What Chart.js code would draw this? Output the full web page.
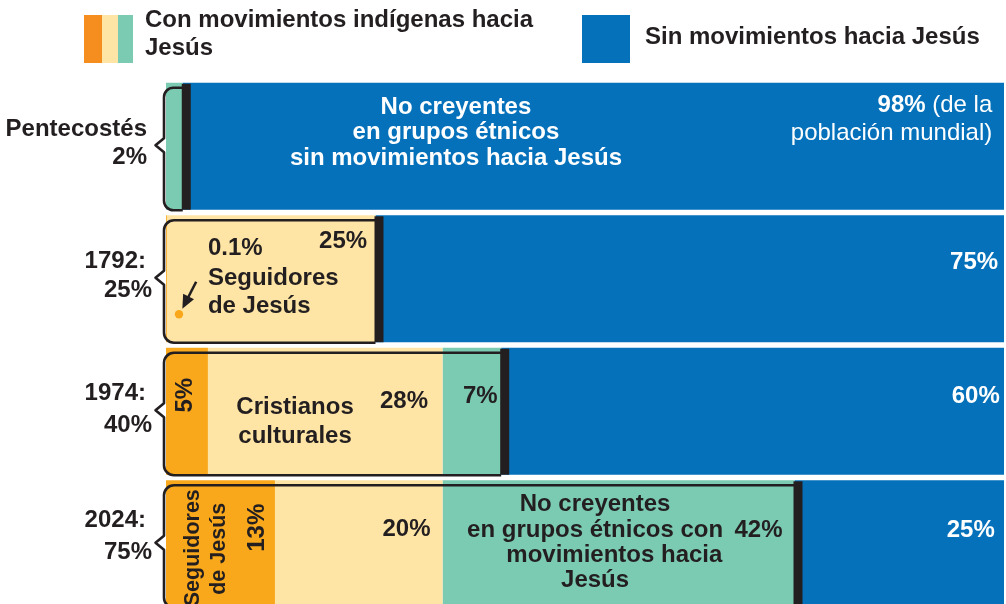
<!DOCTYPE html>
<html><head><meta charset="utf-8">
<script src="https://cdn.jsdelivr.net/npm/chart.js@4/dist/chart.umd.min.js"></script>
<style>html,body{margin:0;padding:0;background:#fff;overflow:hidden;width:1006px;height:604px}canvas{display:block}</style>
</head><body><canvas id="c" width="1006" height="612"></canvas>
<script>
// ---- data ----
const categories = ['Pentecostés', '1792:', '1974:', '2024:'];
const shareLabels = ['2%', '25%', '40%', '75%'];
const seguidores = [0, 0.1, 5, 13];          // Seguidores de Jesús
const culturales = [0, 24.9, 28, 20];        // Cristianos culturales
const conMovimientos = [2, 0, 7, 42];        // No creyentes con movimientos
const sinMovimientos = [98, 75, 60, 25];     // Sin movimientos hacia Jesús
const legendCon = ['Con movimientos indígenas hacia', 'Jesús'];
const legendSin = 'Sin movimientos hacia Jesús';

const COL = {orange: '#F9A81B', legOrange: '#F68E1F', yellow: '#FFE5A5', teal: '#7BCAB2', blue: '#0571BA', ink: '#231F20'};
const FONT = '"Liberation Sans", Arial, Helvetica, sans-serif';
const FS = 24;

// text annotations: row, x value (%), dy from bar centre, text, align, colour, weight, rotated
const notes = [
  {r:0, v:34.6, dy:-39, t:'No creyentes', c:'#fff'},
  {r:0, v:34.6, dy:-14, t:'en grupos étnicos', c:'#fff'},
  {r:0, v:34.6, dy:12,  t:'sin movimientos hacia Jesús', c:'#fff'},
  {r:0, v:98.6, dy:-13, t:'población mundial)', c:'#fff', a:'right', w:'normal'},
  {r:1, v:24.0, dy:-37, t:'25%', a:'right'},
  {r:1, v:5.0,  dy:-30, t:'0.1%', a:'left'},
  {r:1, v:5.0,  dy:0,   t:'Seguidores', a:'left'},
  {r:1, v:5.0,  dy:28,  t:'de Jesús', a:'left'},
  {r:1, v:99.3, dy:-16, t:'75%', c:'#fff', a:'right'},
  {r:2, v:2.3,  dy:-16, t:'5%', rot:true},
  {r:2, v:15.4, dy:-4,  t:'Cristianos'},
  {r:2, v:15.4, dy:25,  t:'culturales'},
  {r:2, v:28.4, dy:-10, t:'28%'},
  {r:2, v:37.5, dy:-15, t:'7%'},
  {r:2, v:99.5, dy:-15, t:'60%', c:'#fff', a:'right'},
  {r:3, v:3.2,  dy:4,   t:'Seguidores', rot:true, fs:21.5},
  {r:3, v:6.3,  dy:5,   t:'de Jesús', rot:true, fs:21.5},
  {r:3, v:10.9, dy:-16, t:'13%', rot:true},
  {r:3, v:28.7, dy:-14, t:'20%'},
  {r:3, v:51.2, dy:-39, t:'No creyentes'},
  {r:3, v:51.2, dy:-13, t:'en grupos étnicos con'},
  {r:3, v:70.7, dy:-13, t:'42%'},
  {r:3, v:53.5, dy:12,  t:'movimientos hacia'},
  {r:3, v:51.2, dy:37,  t:'Jesús'},
  {r:3, v:98.9, dy:-13, t:'25%', c:'#fff', a:'right'}
];
// row label offsets (year line, share line)
const rowLabelDy = [[-17, 11], [-17, 12], [-18, 14], [-23, 9]];

const overlay = {
  id: 'overlay',
  afterDatasetsDraw(chart) {
    const ctx = chart.ctx;
    const xs = chart.scales.x;
    const px = v => xs.getPixelForValue(v);
    const bars = chart.getDatasetMeta(3).data;
    ctx.save();
    // brackets
    bars.forEach((b, i) => {
      const top = b.y - b.height / 2, bot = b.y + b.height / 2;
      const total = seguidores[i] + culturales[i] + conMovimientos[i];
      const xE = px(total), xL = px(0) - 2;
      const bT = top + 5, bB = bot + 0.5, r = Math.min(10, (xE - xL) / 2);
      const cy = b.y - 1;
      ctx.beginPath();
      ctx.moveTo(xE, bT);
      ctx.lineTo(xL + r, bT);
      ctx.arcTo(xL, bT, xL, bT + r, r);
      ctx.lineTo(xL, cy - 7);
      ctx.lineTo(xL - 8.5, cy);
      ctx.lineTo(xL, cy + 7);
      ctx.lineTo(xL, bB - r);
      ctx.arcTo(xL, bB, xL + r, bB, r);
      ctx.lineTo(xE, bB);
      ctx.lineWidth = 2.6;
      ctx.lineJoin = 'round';
      ctx.strokeStyle = COL.ink;
      ctx.stroke();
      ctx.fillStyle = COL.ink;
      ctx.fillRect(xE - 1, top + 1, 9, bot - top - 1);
    });
    // inner texts
    ctx.textBaseline = 'middle';
    notes.forEach(n => {
      const b = bars[n.r];
      ctx.font = (n.w || 'bold') + ' ' + (n.fs || FS) + 'px ' + FONT;
      ctx.fillStyle = n.c || COL.ink;
      const x = px(n.v), y = b.y + n.dy;
      if (n.rot) {
        ctx.save();
        ctx.translate(x, y);
        ctx.rotate(-Math.PI / 2);
        ctx.textAlign = 'center';
        ctx.fillText(n.t, 0, 0);
        ctx.restore();
      } else {
        ctx.textAlign = n.a || 'center';
        ctx.fillText(n.t, x, y);
      }
    });
    // "98% (de la" mixed weight
    {
      const b = bars[0];
      const xr = px(98.6), y = b.y - 41;
      ctx.textAlign = 'right';
      ctx.fillStyle = '#fff';
      ctx.font = 'normal ' + FS + 'px ' + FONT;
      const rest = ' (de la';
      ctx.fillText(rest, xr, y);
      const w = ctx.measureText(rest).width;
      ctx.font = 'bold ' + FS + 'px ' + FONT;
      ctx.fillText('98%', xr - w, y);
    }
    // 0.1% dot and arrow
    {
      const b = bars[1];
      const dx = px(1.55), dyy = b.y + 35.5;
      ctx.fillStyle = COL.orange;
      ctx.beginPath(); ctx.arc(dx, dyy, 4.2, 0, Math.PI * 2); ctx.fill();
      const x1 = px(3.6), y1 = b.y + 3, x2 = px(1.95), y2 = b.y + 30;
      const ang = Math.atan2(y2 - y1, x2 - x1);
      ctx.strokeStyle = COL.ink; ctx.lineWidth = 2.6;
      ctx.beginPath(); ctx.moveTo(x1, y1);
      ctx.lineTo(x2 - 9 * Math.cos(ang), y2 - 9 * Math.sin(ang)); ctx.stroke();
      ctx.fillStyle = COL.ink;
      ctx.beginPath();
      ctx.moveTo(x2, y2);
      ctx.lineTo(x2 - 15 * Math.cos(ang - 0.42), y2 - 15 * Math.sin(ang - 0.42));
      ctx.lineTo(x2 - 15 * Math.cos(ang + 0.42), y2 - 15 * Math.sin(ang + 0.42));
      ctx.closePath(); ctx.fill();
    }
    // row labels
    ctx.fillStyle = COL.ink;
    ctx.font = 'bold ' + FS + 'px ' + FONT;
    ctx.textAlign = 'right';
    bars.forEach((b, i) => {
      const xr1 = i === 0 ? 147 : 146, xr2 = i === 0 ? 147 : 152;
      ctx.fillText(categories[i], xr1, b.y + rowLabelDy[i][0]);
      ctx.fillText(shareLabels[i], xr2, b.y + rowLabelDy[i][1]);
    });
    // legend
    ctx.fillStyle = COL.legOrange; ctx.fillRect(84, 15, 18, 48);
    ctx.fillStyle = COL.yellow; ctx.fillRect(102, 15, 16, 48);
    ctx.fillStyle = COL.teal; ctx.fillRect(118, 15, 15, 48);
    ctx.fillStyle = COL.blue; ctx.fillRect(582, 15, 48, 48);
    ctx.fillStyle = COL.ink;
    ctx.textAlign = 'left';
    ctx.fillText(legendCon[0], 145, 20);
    ctx.fillText(legendCon[1], 145, 48);
    ctx.fillText(legendSin, 645, 37);
    ctx.restore();
  }
};

new Chart(document.getElementById('c'), {
  type: 'bar',
  data: {
    labels: categories,
    datasets: [
      {label: 'Seguidores de Jesús', data: seguidores, backgroundColor: COL.orange},
      {label: 'Cristianos culturales', data: culturales, backgroundColor: COL.yellow},
      {label: 'No creyentes con movimientos', data: conMovimientos, backgroundColor: COL.teal},
      {label: 'Sin movimientos hacia Jesús', data: sinMovimientos, backgroundColor: COL.blue}
    ]
  },
  options: {
    indexAxis: 'y',
    responsive: false,
    animation: false,
    events: [],
    layout: {padding: {left: 166, right: 2, top: 80, bottom: 2}},
    datasets: {bar: {barPercentage: 0.958, categoryPercentage: 1, borderWidth: 0}},
    scales: {
      x: {stacked: true, min: 0, max: 100, display: false},
      y: {stacked: true, display: false}
    },
    plugins: {legend: {display: false}, tooltip: {enabled: false}}
  },
  plugins: [overlay]
});
</script>
</body></html>
